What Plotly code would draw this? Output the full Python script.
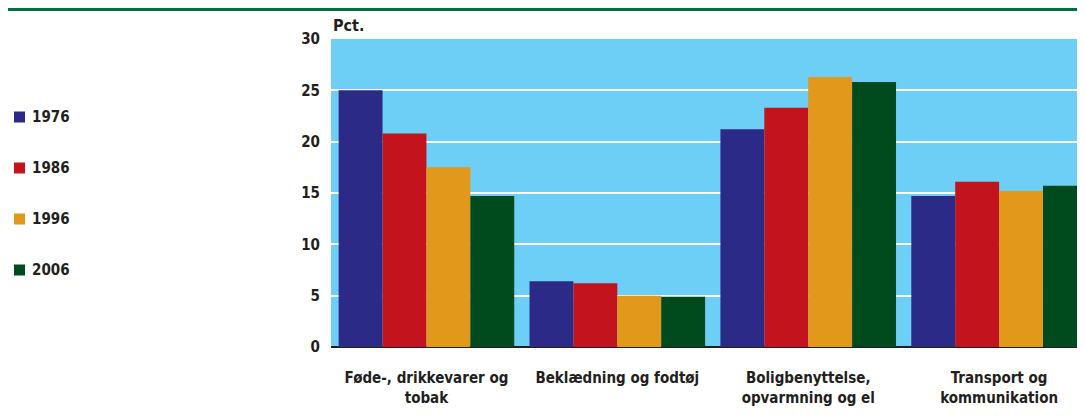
import plotly.graph_objects as go

categories = [
    "Føde-, drikkevarer og<br>tobak",
    "Beklædning og fodtøj",
    "Boligbenyttelse,<br>opvarmning og el",
    "Transport og<br>kommunikation",
]
years = ["1976", "1986", "1996", "2006"]
values = {
    "1976": [25.0, 6.4, 21.2, 14.7],
    "1986": [20.8, 6.2, 23.3, 16.1],
    "1996": [17.5, 5.0, 26.3, 15.2],
    "2006": [14.7, 4.9, 25.8, 15.7],
}
colors = {"1976": "#2b2a87", "1986": "#c3131d", "1996": "#e2981a", "2006": "#004b1d"}
y_ticks = [0, 5, 10, 15, 20, 25, 30]

FONT = "Liberation Sans Narrow, DejaVu Sans Condensed, Arial Narrow, sans-serif"
TXT = "#231f20"

W, H = 1077, 402
L, T, B = 323, 31, 63
plot_w, plot_h = W - L, H - T - B

fig = go.Figure()
for yr in years:
    fig.add_trace(go.Bar(
        x=categories, y=values[yr], name=yr, showlegend=False,
        marker=dict(color=colors[yr], line=dict(width=0)),
    ))


def px_x(x):
    return (x - L) / plot_w


def px_y(y):
    return (T + plot_h - y) / plot_h


shapes = [dict(
    type="line", xref="paper", yref="paper",
    x0=px_x(-2), x1=1.0, y0=px_y(1), y1=px_y(1),
    line=dict(color="#00703c", width=4),
)]
annotations = [dict(
    text="Pct.", xref="paper", yref="paper", x=0, y=1.0,
    xanchor="left", yanchor="bottom", showarrow=False, yshift=2,
    font=dict(family=FONT, size=16, weight="bold", color=TXT),
)]
# legend at the left edge: squares + labels, 51px apart
for i, yr in enumerate(years):
    yc = 109 + 51 * i
    shapes.append(dict(
        type="rect", xref="paper", yref="paper",
        x0=px_x(6), x1=px_x(17), y0=px_y(yc + 5.5), y1=px_y(yc - 5.5),
        fillcolor=colors[yr], line=dict(width=0),
    ))
    annotations.append(dict(
        text=yr, xref="paper", yref="paper", x=px_x(22), y=px_y(yc),
        xanchor="left", yanchor="middle", showarrow=False,
        font=dict(family=FONT, size=15, weight="bold", color=TXT),
    ))

fig.update_layout(
    width=W, height=H,
    margin=dict(l=L, r=0, t=T, b=B),
    paper_bgcolor="white", plot_bgcolor="#6dcff6",
    barmode="group", bargap=0.08, bargroupgap=0,
    font=dict(family=FONT, size=15, color=TXT),
    xaxis=dict(
        range=[-0.5, 3.45], showgrid=False, ticks="",
        tickfont=dict(family=FONT, size=15, weight="bold", color=TXT),
        showline=False, ticklabelstandoff=20,
    ),
    yaxis=dict(
        range=[0, 30], tickvals=y_ticks, showgrid=True,
        gridcolor="white", gridwidth=2,
        zeroline=True, zerolinecolor=TXT, zerolinewidth=2,
        tickfont=dict(family=FONT, size=15, weight="bold", color=TXT),
        ticklabelstandoff=10,
    ),
    annotations=annotations,
    shapes=shapes,
)

fig.write_html("out.html")
